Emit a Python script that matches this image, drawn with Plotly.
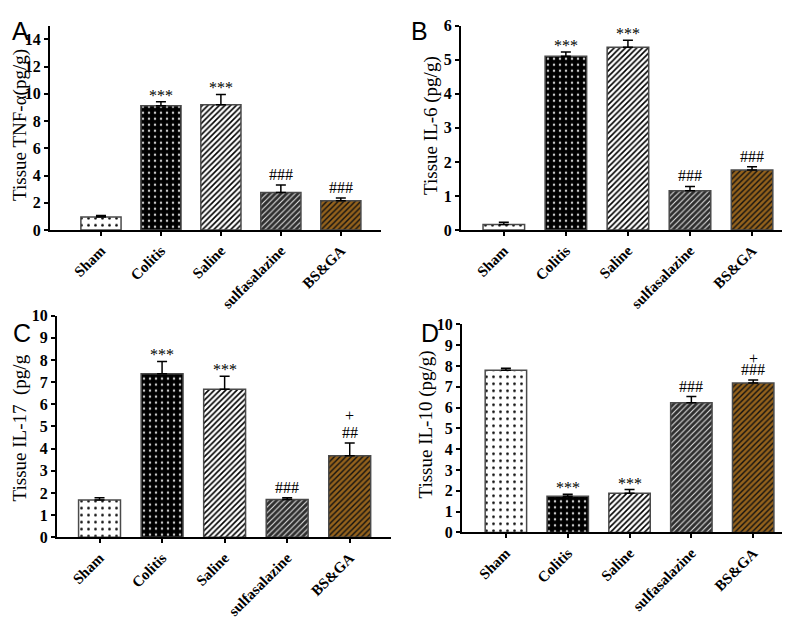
import plotly.graph_objects as go

categories = ["Sham", "Colitis", "Saline", "sulfasalazine", "BS&GA"]

tnf_mean = [0.95, 9.12, 9.2, 2.75, 2.15]
tnf_err = [0.12, 0.3, 0.75, 0.55, 0.2]
il6_mean = [0.16, 5.1, 5.37, 1.15, 1.76]
il6_err = [0.07, 0.13, 0.2, 0.13, 0.1]
il17_mean = [1.68, 7.38, 6.68, 1.71, 3.68]
il17_err = [0.1, 0.55, 0.58, 0.08, 0.58]
il10_mean = [7.79, 1.74, 1.88, 6.23, 7.18]
il10_err = [0.1, 0.1, 0.18, 0.3, 0.15]

tnf_sig = [[], ["***"], ["***"], ["###"], ["###"]]
il6_sig = [[], ["***"], ["***"], ["###"], ["###"]]
il17_sig = [[], ["***"], ["***"], ["###"], ["##", "+"]]
il10_sig = [[], ["***"], ["***"], ["###"], ["###", "+"]]

titles = ["Tissue TNF-α(pg/g)", "Tissue IL-6 (pg/g)", "Tissue IL-17  (pg/g", "Tissue IL-10 (pg/g)"]
letters = ["A", "B", "C", "D"]
y_ticks = [list(range(0, 15, 2)), list(range(0, 7)), list(range(0, 11)), list(range(0, 11))]
y_max = [15, 6, 10, 10]

# styling
W, H = 790, 622
pat_shape = [".", ".", "/", "/", "/"]
pat_bg = ["#ffffff", "#000000", "#ffffff", "#2e2e2e", "#94621c"]
pat_fg = ["#000000", "#c8c8c8", "#000000", "#e0e0e0", "#111111"]
pat_size = [7, 6, 4, 4, 4]
pat_sol = [0.12, 0.14, 0.4, 0.28, 0.35]

# pixel boxes: (x0, x1, ytop, ybottom)
boxes = [(42, 373, 10, 220), (453, 785, 10, 220), (49, 383, 308, 536), (454, 786, 317, 531)]
x_ranges = [[-0.85, 4.67], [-0.69, 4.66], [-0.68, 4.66], [-0.71, 4.66]]
title_pos = [(12, 112), (423, 113), (12, 424), (418, 420)]
letter_pos = [(12, 15), (411, 15), (14, 326), (422, 326)]
stack_gap = [18, 18, 19, 13]

means = [tnf_mean, il6_mean, il17_mean, il10_mean]
errs = [tnf_err, il6_err, il17_err, il10_err]
sigs = [tnf_sig, il6_sig, il17_sig, il10_sig]


def serif_bold(size):
    return dict(family="Liberation Serif", size=size, color="black", weight="bold")


fig = go.Figure()
layout = dict(
    width=W, height=H, margin=dict(l=0, r=0, t=0, b=0),
    paper_bgcolor="white", plot_bgcolor="white", showlegend=False,
    barmode="overlay", template="simple_white",
    font=dict(family="Liberation Serif", size=16, color="black", weight="bold"),
)
annotations = []

for i in range(4):
    n = "" if i == 0 else str(i + 1)
    xa, ya = "x" + n, "y" + n
    x0, x1, yt, yb = boxes[i]
    for j, cat in enumerate(categories):
        fig.add_trace(go.Bar(
            x=[cat], y=[means[i][j]], xaxis=xa, yaxis=ya, width=0.67,
            marker=dict(
                color=pat_bg[j],
                line=dict(color="#4a4a4a", width=1.5),
                pattern=dict(shape=pat_shape[j], bgcolor=pat_bg[j], fgcolor=pat_fg[j],
                             size=pat_size[j], solidity=pat_sol[j], fillmode="replace"),
            ),
            error_y=dict(type="data", array=[errs[i][j]], arrayminus=[0], symmetric=False,
                         color="black", thickness=1.5, width=5),
        ))
    layout["xaxis" + n] = dict(
        domain=[x0 / W, x1 / W], anchor=ya, range=x_ranges[i],
        categoryorder="array", categoryarray=categories,
        showline=True, linecolor="black", linewidth=2,
        ticks="outside", ticklen=4, tickwidth=1.5, tickcolor="black",
        tickangle=-45, tickfont=serif_bold(15),
        showgrid=False, zeroline=False, fixedrange=True,
    )
    layout["yaxis" + n] = dict(
        domain=[(H - yb) / H, (H - yt) / H], anchor=xa, range=[0, y_max[i]],
        tickmode="array", tickvals=y_ticks[i], ticktext=[str(v) for v in y_ticks[i]],
        showline=True, linecolor="black", linewidth=2,
        ticks="outside", ticklen=4, tickwidth=1.5, tickcolor="black",
        tickfont=serif_bold(16), showgrid=False, zeroline=False,
    )
    tx, ty = title_pos[i]
    annotations.append(dict(text=titles[i], x=tx / W, y=(H - ty) / H, xref="paper", yref="paper",
                            xanchor="center", yanchor="middle",
                            textangle=-90, showarrow=False,
                            font=dict(family="Liberation Serif", size=19, color="black",
                                      weight="normal")))
    lx, ly = letter_pos[i]
    annotations.append(dict(text=letters[i], x=lx / W, y=(H - ly) / H, xref="paper", yref="paper",
                            xanchor="center", yanchor="middle", showarrow=False,
                            font=dict(family="Liberation Sans", size=25, color="black",
                                      weight="normal")))
    for j, cat in enumerate(categories):
        for k, s in enumerate(sigs[i][j]):
            shift = (-4 if s == "***" else 0) + k * stack_gap[i]
            if s == "+":
                shift -= 2
            annotations.append(dict(
                text=s, x=cat, y=means[i][j] + errs[i][j], xref=xa, yref=ya,
                xanchor="center", yanchor="bottom", yshift=shift, showarrow=False,
                font=dict(family="Liberation Serif", size=16, color="#000000",
                          weight="normal")))

layout["annotations"] = annotations
fig.update_layout(**layout)
fig.write_html("out.html")
